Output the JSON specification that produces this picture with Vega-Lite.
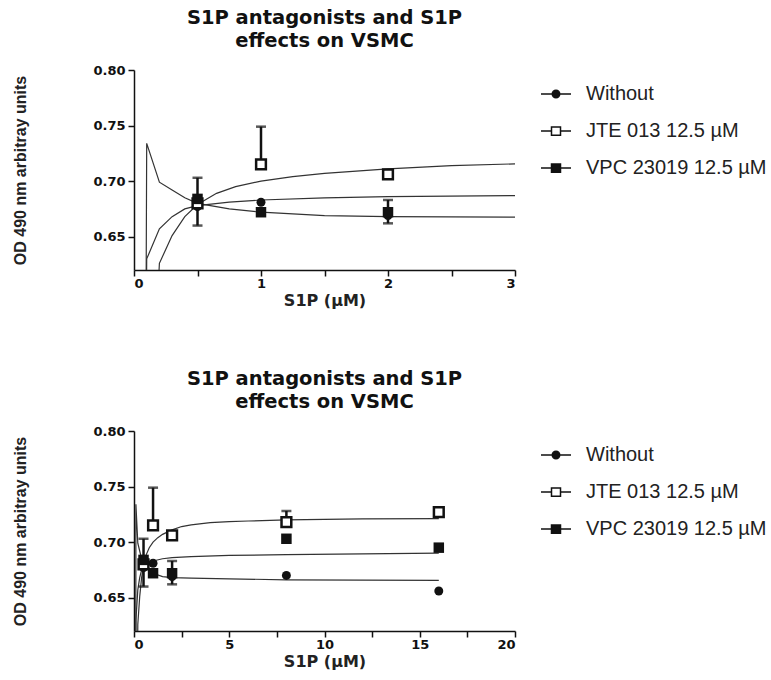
{
  "$schema": "https://vega.github.io/schema/vega-lite/v6.json",
  "background": "white",
  "padding": {"left": 12, "top": 7, "right": 5, "bottom": 5},
  "spacing": 60,
  "datasets": {
    "pts": [
      {"series": "Without", "x": 0.5, "y": 0.677},
      {"series": "Without", "x": 1, "y": 0.681},
      {"series": "Without", "x": 2, "y": 0.669},
      {"series": "Without", "x": 8, "y": 0.670},
      {"series": "Without", "x": 16, "y": 0.656},
      {"series": "JTE 013 12.5 µM", "x": 0.5, "y": 0.680},
      {"series": "JTE 013 12.5 µM", "x": 1, "y": 0.715},
      {"series": "JTE 013 12.5 µM", "x": 2, "y": 0.706},
      {"series": "JTE 013 12.5 µM", "x": 8, "y": 0.718},
      {"series": "JTE 013 12.5 µM", "x": 16, "y": 0.727},
      {"series": "VPC 23019 12.5 µM", "x": 0.5, "y": 0.684},
      {"series": "VPC 23019 12.5 µM", "x": 1, "y": 0.672},
      {"series": "VPC 23019 12.5 µM", "x": 2, "y": 0.672},
      {"series": "VPC 23019 12.5 µM", "x": 8, "y": 0.703},
      {"series": "VPC 23019 12.5 µM", "x": 16, "y": 0.695}
    ],
    "err": [
      {"series": "VPC 23019 12.5 µM", "x": 0.5, "y": 0.684, "yEnd": 0.703},
      {"series": "Without", "x": 0.5, "y": 0.677, "yEnd": 0.660},
      {"series": "JTE 013 12.5 µM", "x": 1, "y": 0.715, "yEnd": 0.749},
      {"series": "VPC 23019 12.5 µM", "x": 2, "y": 0.672, "yEnd": 0.683},
      {"series": "Without", "x": 2, "y": 0.669, "yEnd": 0.662},
      {"series": "JTE 013 12.5 µM", "x": 8, "y": 0.718, "yEnd": 0.728}
    ],
    "curves": [
      {"series": "JTE 013 12.5 µM", "x": 0.1, "y": 0.40},
      {"series": "JTE 013 12.5 µM", "x": 0.2, "y": 0.626},
      {"series": "JTE 013 12.5 µM", "x": 0.3, "y": 0.651},
      {"series": "JTE 013 12.5 µM", "x": 0.4, "y": 0.668},
      {"series": "JTE 013 12.5 µM", "x": 0.5, "y": 0.679},
      {"series": "JTE 013 12.5 µM", "x": 0.65, "y": 0.689},
      {"series": "JTE 013 12.5 µM", "x": 0.8, "y": 0.695},
      {"series": "JTE 013 12.5 µM", "x": 1.0, "y": 0.700},
      {"series": "JTE 013 12.5 µM", "x": 1.25, "y": 0.704},
      {"series": "JTE 013 12.5 µM", "x": 1.5, "y": 0.707},
      {"series": "JTE 013 12.5 µM", "x": 2.0, "y": 0.711},
      {"series": "JTE 013 12.5 µM", "x": 2.5, "y": 0.714},
      {"series": "JTE 013 12.5 µM", "x": 3.0, "y": 0.7155},
      {"series": "JTE 013 12.5 µM", "x": 4, "y": 0.7175},
      {"series": "JTE 013 12.5 µM", "x": 5, "y": 0.7185},
      {"series": "JTE 013 12.5 µM", "x": 6, "y": 0.719},
      {"series": "JTE 013 12.5 µM", "x": 8, "y": 0.720},
      {"series": "JTE 013 12.5 µM", "x": 10, "y": 0.7205},
      {"series": "JTE 013 12.5 µM", "x": 12, "y": 0.721},
      {"series": "JTE 013 12.5 µM", "x": 16, "y": 0.7212},
      {"series": "VPC 23019 12.5 µM", "x": 0.09, "y": 0.45},
      {"series": "VPC 23019 12.5 µM", "x": 0.1, "y": 0.630},
      {"series": "VPC 23019 12.5 µM", "x": 0.2, "y": 0.657},
      {"series": "VPC 23019 12.5 µM", "x": 0.3, "y": 0.668},
      {"series": "VPC 23019 12.5 µM", "x": 0.4, "y": 0.675},
      {"series": "VPC 23019 12.5 µM", "x": 0.5, "y": 0.678},
      {"series": "VPC 23019 12.5 µM", "x": 0.75, "y": 0.681},
      {"series": "VPC 23019 12.5 µM", "x": 1.0, "y": 0.683},
      {"series": "VPC 23019 12.5 µM", "x": 1.5, "y": 0.685},
      {"series": "VPC 23019 12.5 µM", "x": 2, "y": 0.686},
      {"series": "VPC 23019 12.5 µM", "x": 3, "y": 0.687},
      {"series": "VPC 23019 12.5 µM", "x": 5, "y": 0.688},
      {"series": "VPC 23019 12.5 µM", "x": 8, "y": 0.6888},
      {"series": "VPC 23019 12.5 µM", "x": 12, "y": 0.6895},
      {"series": "VPC 23019 12.5 µM", "x": 16, "y": 0.690},
      {"series": "Without", "x": 0.09, "y": 0.45},
      {"series": "Without", "x": 0.1, "y": 0.734},
      {"series": "Without", "x": 0.2, "y": 0.699},
      {"series": "Without", "x": 0.3, "y": 0.692},
      {"series": "Without", "x": 0.4, "y": 0.685},
      {"series": "Without", "x": 0.5, "y": 0.680},
      {"series": "Without", "x": 0.75, "y": 0.675},
      {"series": "Without", "x": 1.0, "y": 0.672},
      {"series": "Without", "x": 1.5, "y": 0.669},
      {"series": "Without", "x": 2, "y": 0.668},
      {"series": "Without", "x": 3, "y": 0.6675},
      {"series": "Without", "x": 5, "y": 0.667},
      {"series": "Without", "x": 8, "y": 0.666},
      {"series": "Without", "x": 16, "y": 0.6655}
    ]
  },
  "config": {
    "view": {"stroke": null},
    "font": "Liberation Sans",
    "title": {"font": "DejaVu Sans", "fontSize": 19.5, "fontWeight": "bold", "lineHeight": 23, "anchor": "middle", "color": "#111", "offset": 13},
    "axis": {"grid": false, "domainColor": "#111", "domainWidth": 1.5, "tickColor": "#111", "tickWidth": 1.5, "tickSize": 6, "labelFont": "DejaVu Sans", "labelFontWeight": "bold", "labelFontSize": 13, "labelColor": "#111", "titleColor": "#222"},
    "axisX": {"titleFont": "DejaVu Sans", "titleFontSize": 16, "titleFontWeight": "bold", "labelPadding": 1, "titlePadding": 2},
    "axisY": {"titleFont": "Liberation Sans", "titleFontSize": 16, "titleFontWeight": "bold", "titlePadding": 64, "labelPadding": 3}
  },
  "resolve": {"scale": {"x": "independent", "y": "independent", "shape": "independent", "fill": "independent", "stroke": "independent"}, "legend": {"shape": "independent", "fill": "independent", "stroke": "independent"}},
  "vconcat": [
    {
      "title": {"text": ["S1P antagonists and S1P", "effects on VSMC"]},
      "width": 381,
      "height": 200,
      "encoding": {
        "x": {"field": "x", "type": "quantitative", "scale": {"domain": [0, 3], "nice": false}, "axis": {"title": "S1P (µM)", "values": [0, 0.5, 1, 1.5, 2, 2.5, 3], "labelExpr": "datum.value % 1 === 0 ? format(datum.value, 'd') : ''"}},
        "y": {"field": "y", "type": "quantitative", "scale": {"domain": [0.62, 0.8], "nice": false, "zero": false}, "axis": {"title": "OD 490 nm arbitray units", "values": [0.65, 0.7, 0.75, 0.8], "format": ".2f"}}
      },
      "layer": [
        {"data": {"name": "curves"}, "mark": {"type": "line", "clip": true, "color": "#333", "strokeWidth": 1.2}, "encoding": {"detail": {"field": "series"}}},
        {"data": {"name": "err"}, "transform": [{"filter": "datum.x <= 3"}], "mark": {"type": "rule", "color": "#111", "strokeWidth": 2.5}, "encoding": {"y2": {"field": "yEnd"}}},
        {"data": {"name": "err"}, "transform": [{"filter": "datum.x <= 3"}], "mark": {"type": "tick", "orient": "horizontal", "color": "#111", "size": 10, "thickness": 2.5}, "encoding": {"y": {"field": "yEnd", "type": "quantitative", "title": "OD 490 nm arbitray units"}}},
        {"data": {"name": "pts"}, "transform": [{"filter": "datum.x <= 3 && datum.series === 'Without'"}], "mark": {"type": "point", "shape": "circle", "filled": true, "color": "#111", "size": 80, "opacity": 1}},
        {"data": {"name": "pts"}, "transform": [{"filter": "datum.x <= 3 && datum.series === 'JTE 013 12.5 µM'"}], "mark": {"type": "point", "shape": "square", "filled": true, "fill": "white", "stroke": "#111", "strokeWidth": 2.5, "size": 95, "opacity": 1}},
        {"data": {"name": "pts"}, "transform": [{"filter": "datum.x <= 3 && datum.series === 'VPC 23019 12.5 µM'"}], "mark": {"type": "point", "shape": "square", "filled": true, "color": "#111", "size": 110, "opacity": 1}},
        {"data": {"name": "pts"}, "transform": [{"filter": "datum.x <= 3"}], "mark": {"type": "point", "opacity": 0, "strokeWidth": 1.5},
          "encoding": {
            "shape": {"field": "series", "type": "nominal", "scale": {"domain": ["Without", "JTE 013 12.5 µM", "VPC 23019 12.5 µM"], "range": ["M-2,0H-0.5M0.5,0H2M-0.5,0A0.5,0.5,0,1,1,0.5,0A0.5,0.5,0,1,1,-0.5,0Z", "M-2,0H-0.6M0.6,0H2M-0.6,-0.55H0.6V0.55H-0.6Z", "M-2,0H-0.6M0.6,0H2M-0.6,-0.55H0.6V0.55H-0.6Z"]},
              "legend": {"orient": "none", "legendX": 412, "legendY": 14, "title": null, "padding": 0, "symbolSize": 225, "symbolStrokeWidth": 1.5, "symbolOpacity": 1, "labelFont": "Liberation Sans", "labelFontSize": 20, "labelColor": "#222", "labelOffset": 20, "rowPadding": 17, "labelLimit": 300}},
            "fill": {"field": "series", "type": "nominal", "scale": {"domain": ["Without", "JTE 013 12.5 µM", "VPC 23019 12.5 µM"], "range": ["#111", "white", "#111"]},
              "legend": {"orient": "none", "legendX": 412, "legendY": 14, "title": null, "padding": 0, "symbolSize": 225, "symbolStrokeWidth": 1.5, "symbolOpacity": 1, "labelFont": "Liberation Sans", "labelFontSize": 20, "labelColor": "#222", "labelOffset": 20, "rowPadding": 17, "labelLimit": 300}},
            "stroke": {"field": "series", "type": "nominal", "scale": {"domain": ["Without", "JTE 013 12.5 µM", "VPC 23019 12.5 µM"], "range": ["#111", "#111", "#111"]},
              "legend": {"orient": "none", "legendX": 412, "legendY": 14, "title": null, "padding": 0, "symbolSize": 225, "symbolStrokeWidth": 1.5, "symbolOpacity": 1, "labelFont": "Liberation Sans", "labelFontSize": 20, "labelColor": "#222", "labelOffset": 20, "rowPadding": 17, "labelLimit": 300}}
          }
        }
      ]
    },
    {
      "title": {"text": ["S1P antagonists and S1P", "effects on VSMC"]},
      "width": 381,
      "height": 200,
      "encoding": {
        "x": {"field": "x", "type": "quantitative", "scale": {"domain": [0, 20], "nice": false}, "axis": {"title": "S1P (µM)", "values": [0, 2.5, 5, 7.5, 10, 12.5, 15, 17.5, 20], "labelExpr": "datum.value % 5 === 0 ? format(datum.value, 'd') : ''"}},
        "y": {"field": "y", "type": "quantitative", "scale": {"domain": [0.62, 0.8], "nice": false, "zero": false}, "axis": {"title": "OD 490 nm arbitray units", "values": [0.65, 0.7, 0.75, 0.8], "format": ".2f"}}
      },
      "layer": [
        {"data": {"name": "curves"}, "mark": {"type": "line", "clip": true, "color": "#333", "strokeWidth": 1.2}, "encoding": {"detail": {"field": "series"}}},
        {"data": {"name": "err"}, "mark": {"type": "rule", "color": "#111", "strokeWidth": 2.5}, "encoding": {"y2": {"field": "yEnd"}}},
        {"data": {"name": "err"}, "mark": {"type": "tick", "orient": "horizontal", "color": "#111", "size": 10, "thickness": 2.5}, "encoding": {"y": {"field": "yEnd", "type": "quantitative", "title": "OD 490 nm arbitray units"}}},
        {"data": {"name": "pts"}, "transform": [{"filter": "datum.series === 'Without'"}], "mark": {"type": "point", "shape": "circle", "filled": true, "color": "#111", "size": 80, "opacity": 1}},
        {"data": {"name": "pts"}, "transform": [{"filter": "datum.series === 'JTE 013 12.5 µM'"}], "mark": {"type": "point", "shape": "square", "filled": true, "fill": "white", "stroke": "#111", "strokeWidth": 2.5, "size": 95, "opacity": 1}},
        {"data": {"name": "pts"}, "transform": [{"filter": "datum.series === 'VPC 23019 12.5 µM'"}], "mark": {"type": "point", "shape": "square", "filled": true, "color": "#111", "size": 110, "opacity": 1}},
        {"data": {"name": "pts"}, "mark": {"type": "point", "opacity": 0, "strokeWidth": 1.5},
          "encoding": {
            "shape": {"field": "series", "type": "nominal", "scale": {"domain": ["Without", "JTE 013 12.5 µM", "VPC 23019 12.5 µM"], "range": ["M-2,0H-0.5M0.5,0H2M-0.5,0A0.5,0.5,0,1,1,0.5,0A0.5,0.5,0,1,1,-0.5,0Z", "M-2,0H-0.6M0.6,0H2M-0.6,-0.55H0.6V0.55H-0.6Z", "M-2,0H-0.6M0.6,0H2M-0.6,-0.55H0.6V0.55H-0.6Z"]},
              "legend": {"orient": "none", "legendX": 412, "legendY": 14, "title": null, "padding": 0, "symbolSize": 225, "symbolStrokeWidth": 1.5, "symbolOpacity": 1, "labelFont": "Liberation Sans", "labelFontSize": 20, "labelColor": "#222", "labelOffset": 20, "rowPadding": 17, "labelLimit": 300}},
            "fill": {"field": "series", "type": "nominal", "scale": {"domain": ["Without", "JTE 013 12.5 µM", "VPC 23019 12.5 µM"], "range": ["#111", "white", "#111"]},
              "legend": {"orient": "none", "legendX": 412, "legendY": 14, "title": null, "padding": 0, "symbolSize": 225, "symbolStrokeWidth": 1.5, "symbolOpacity": 1, "labelFont": "Liberation Sans", "labelFontSize": 20, "labelColor": "#222", "labelOffset": 20, "rowPadding": 17, "labelLimit": 300}},
            "stroke": {"field": "series", "type": "nominal", "scale": {"domain": ["Without", "JTE 013 12.5 µM", "VPC 23019 12.5 µM"], "range": ["#111", "#111", "#111"]},
              "legend": {"orient": "none", "legendX": 412, "legendY": 14, "title": null, "padding": 0, "symbolSize": 225, "symbolStrokeWidth": 1.5, "symbolOpacity": 1, "labelFont": "Liberation Sans", "labelFontSize": 20, "labelColor": "#222", "labelOffset": 20, "rowPadding": 17, "labelLimit": 300}}
          }
        }
      ]
    }
  ]
}
